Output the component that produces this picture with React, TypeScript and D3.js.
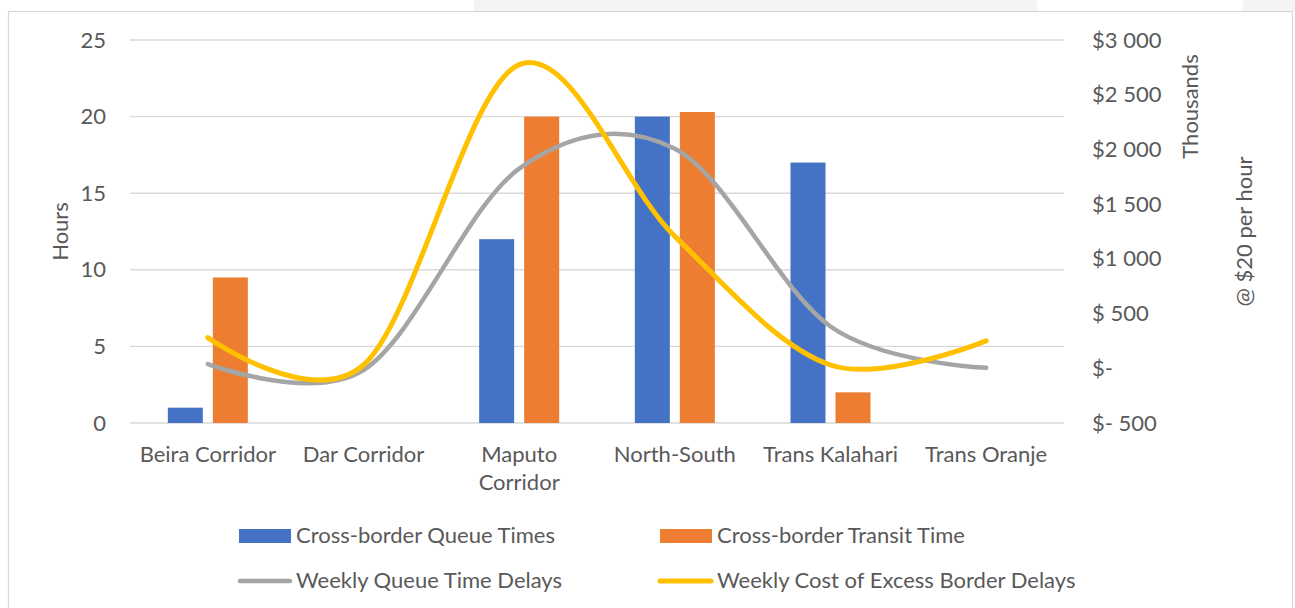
import React from "react";
import * as d3 from "d3";

// Corridor categories and their measured times (hours)
const categories = [
  "Beira Corridor",
  "Dar Corridor",
  "Maputo Corridor",
  "North-South",
  "Trans Kalahari",
  "Trans Oranje",
];
const queueTimes: (number | null)[] = [1, null, 12, 20, 17, null];
const transitTimes: (number | null)[] = [9.5, null, 20, 20.3, 2, null];
// Smoothed line series
const weeklyQueueDelays = [3.85, 3.46, 16.6, 17.9, 6.3, 3.6]; // hours
const weeklyCostThousands = [280, 30, 2775, 1205, 30, 250]; // $ thousands

const hourTicks = [0, 5, 10, 15, 20, 25];
const costTicks = [-500, 0, 500, 1000, 1500, 2000, 2500, 3000];

const barSeries = ["Cross-border Queue Times", "Cross-border Transit Time"];
const lineSeries = ["Weekly Queue Time Delays", "Weekly Cost of Excess Border Delays"];

const W = 1295;
const H = 608;
const FONT = "Lato, 'Open Sans', 'Noto Sans', sans-serif";
const FS = 22;
const TEXT = "#595959";
const GRID = "#D9D9D9";
const BLUE = "#4472C4";
const ORANGE = "#ED7D31";
const GRAY = "#A5A5A5";
const GOLD = "#FFC000";

function costLabel(v: number): string {
  if (v === 0) return "$-";
  const a = Math.abs(v);
  const body =
    a >= 1000 ? `${Math.floor(a / 1000)} ${String(a % 1000).padStart(3, "0")}` : ` ${a}`;
  return v < 0 ? `$-${body}` : `$${body}`;
}

export default function App() {
  const left = 130;
  const right = 1064;
  const top = 40;
  const bottom = 423;

  const x = d3.scaleBand<string>().domain(categories).range([left, right]);
  const inner = d3
    .scaleBand<string>()
    .domain(barSeries)
    .range([-40, 40])
    .paddingInner(10 / 45);
  const yHours = d3.scaleLinear().domain([0, 25]).range([bottom, top]);
  const yCost = d3.scaleLinear().domain([-500, 3000]).range([bottom, top]);

  const cx = (c: string) => (x(c) ?? 0) + x.bandwidth() / 2;

  const queueLine = d3
    .line<number>()
    .x((_, i) => cx(categories[i]))
    .y((d) => yHours(d))
    .curve(d3.curveCardinal.tension(0));
  const costLine = d3
    .line<number>()
    .x((_, i) => cx(categories[i]))
    .y((d) => yCost(d))
    .curve(d3.curveCardinal.tension(0));

  const bars: { key: string; x: number; y: number; h: number; fill: string }[] = [];
  [queueTimes, transitTimes].forEach((vals, s) => {
    vals.forEach((v, i) => {
      if (v == null) return;
      const c = categories[i];
      bars.push({
        key: `${s}-${i}`,
        x: cx(c) + (inner(barSeries[s]) ?? 0),
        y: yHours(v),
        h: yHours(0) - yHours(v),
        fill: s === 0 ? BLUE : ORANGE,
      });
    });
  });

  const catLines = (c: string) => (c === "Maputo Corridor" ? ["Maputo", "Corridor"] : [c]);

  return (
    <svg
      width={W}
      height={H}
      style={{ position: "absolute", left: 0, top: 0, display: "block", background: "#fff" }}
      fontFamily={FONT}
    >
      {/* page backdrop strips above the chart frame */}
      <rect x={474} y={0} width={563} height={11} fill="#F4F4F4" />
      <rect x={1243} y={0} width={52} height={11} fill="#F4F4F4" />
      {/* chart frame */}
      <rect x={8.5} y={11.5} width={1284} height={620} fill="#fff" stroke={GRID} strokeWidth={1.2} />

      {/* gridlines */}
      {hourTicks.map((t) => (
        <line key={t} x1={left} x2={right} y1={yHours(t)} y2={yHours(t)} stroke={GRID} strokeWidth={1.4} />
      ))}

      {/* left axis labels */}
      {hourTicks.map((t) => (
        <text key={t} x={106} y={yHours(t) + 7.6} textAnchor="end" fontSize={FS} fill={TEXT}>
          {t}
        </text>
      ))}
      <text
        transform={`translate(68, ${(top + bottom) / 2}) rotate(-90)`}
        textAnchor="middle"
        fontSize={FS}
        fill={TEXT}
      >
        Hours
      </text>

      {/* right axis labels */}
      {costTicks.map((t) => (
        <text
          key={t}
          x={1092}
          y={yCost(t) + 7.6}
          fontSize={FS}
          fill={TEXT}
          style={{ whiteSpace: "pre" }}
        >
          {costLabel(t)}
        </text>
      ))}
      <text transform="translate(1198, 106.5) rotate(-90)" textAnchor="middle" fontSize={FS} fill={TEXT}>
        Thousands
      </text>
      <text
        transform={`translate(1252, ${(top + bottom) / 2}) rotate(-90)`}
        textAnchor="middle"
        fontSize={FS}
        fill={TEXT}
      >
        @ $20 per hour
      </text>

      {/* bars */}
      {bars.map((b) => (
        <rect key={b.key} x={b.x} y={b.y} width={inner.bandwidth()} height={b.h} fill={b.fill} />
      ))}

      {/* smoothed lines */}
      <path
        d={queueLine(weeklyQueueDelays) ?? ""}
        fill="none"
        stroke={GRAY}
        strokeWidth={4.5}
        strokeLinecap="round"
      />
      <path
        d={costLine(weeklyCostThousands) ?? ""}
        fill="none"
        stroke={GOLD}
        strokeWidth={5}
        strokeLinecap="round"
      />

      {/* category labels */}
      {categories.map((c) => (
        <text key={c} x={cx(c)} y={461.5} textAnchor="middle" fontSize={FS} fill={TEXT}>
          {catLines(c).map((ln, i) => (
            <tspan key={i} x={cx(c)} dy={i === 0 ? 0 : 28.6}>
              {ln}
            </tspan>
          ))}
        </text>
      ))}

      {/* legend */}
      <rect x={239} y={529} width={52} height={14} fill={BLUE} />
      <text x={296} y={543} fontSize={FS} fill={TEXT}>
        {barSeries[0]}
      </text>
      <rect x={660} y={529} width={52} height={14} fill={ORANGE} />
      <text x={717} y={543} fontSize={FS} fill={TEXT}>
        {barSeries[1]}
      </text>
      <line x1={240} x2={290} y1={581} y2={581} stroke={GRAY} strokeWidth={4.5} strokeLinecap="round" />
      <text x={296} y={587.5} fontSize={FS} fill={TEXT}>
        {lineSeries[0]}
      </text>
      <line x1={660} x2={711} y1={581} y2={581} stroke={GOLD} strokeWidth={5} strokeLinecap="round" />
      <text x={717} y={587.5} fontSize={FS} fill={TEXT}>
        {lineSeries[1]}
      </text>
    </svg>
  );
}
